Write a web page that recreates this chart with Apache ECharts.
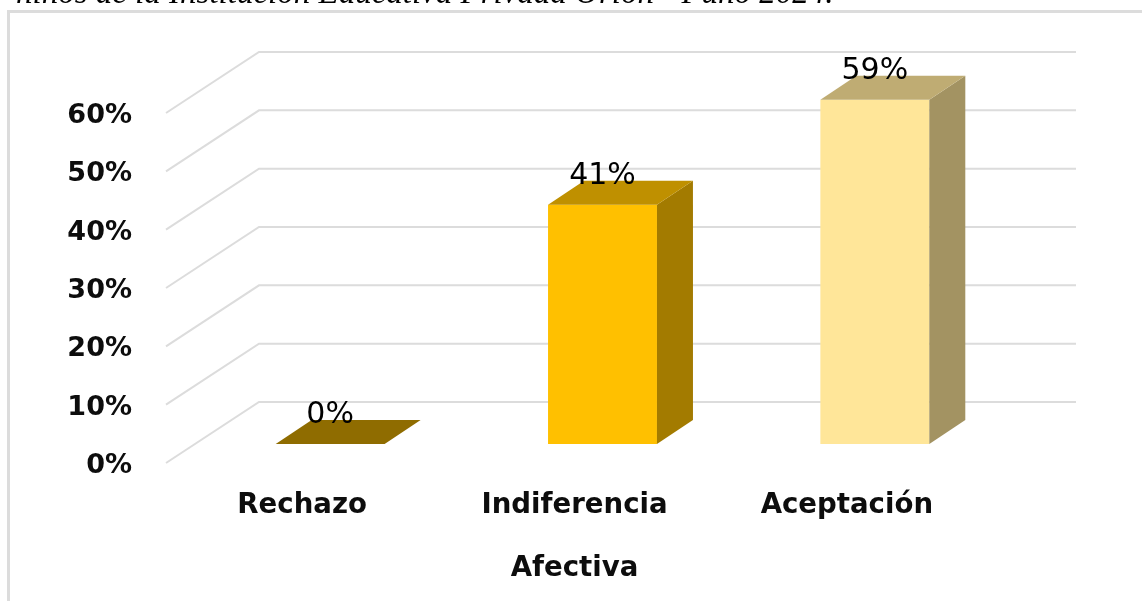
<!DOCTYPE html>
<html>
<head>
<meta charset="utf-8">
<style>
  html, body { margin: 0; padding: 0; background: #fff; }
  #chart { width: 1142px; height: 601px; }
</style>
<script src="https://cdn.jsdelivr.net/npm/echarts@6/dist/echarts.min.js"></script>
</head>
<body>
<div id="chart"></div>
<script>
const categories = ['Rechazo', 'Indiferencia', 'Aceptación']
const values = [0, 41, 59]
const wallTicks = [0, 10, 20, 30, 40, 50, 60]
const frontColors = ['#BF9000', '#FFC000', '#FFE699']
const topColors = ['#8F6C00', '#BF9000', '#BFAC73']
const sideColors = ['#7C5E00', '#A37B00', '#A39362']
const captionText = 'niños de la Institución Educativa Privada Orión - Puno 2024.'
const axisName = 'Afectiva'

const fontName = 'DejaVu Sans'

// depth of the floor and of each bar, in pixels
const wallDx = 93, wallDy = -61
const barInsetDx = 28, barInsetDy = -19
const barDx = 36, barDy = -24

function renderWall(params, api) {
  const p = api.coord([0, api.value(0)])
  const rect = params.coordSys
  const x0 = rect.x
  const y0 = p[1]
  return {
    type: 'polyline',
    silent: true,
    shape: { points: [[x0, y0], [x0 + wallDx, y0 + wallDy], [x0 + wallDx + rect.width, y0 + wallDy]] },
    style: { fill: null, stroke: '#dcdcdc', lineWidth: 2 }
  }
}

function renderBar(params, api) {
  const i = api.value(0)
  const v = api.value(1)
  const base = api.coord([i, 0])
  const top = api.coord([i, v])
  const w = api.size([1, 0])[0] * 0.4
  const x = base[0] - w / 2 + barInsetDx
  const yb = base[1] + barInsetDy
  const yt = top[1] + barInsetDy
  const children = []
  if (v > 0) {
    children.push({
      type: 'rect',
      shape: { x: x, y: yt, width: w, height: yb - yt },
      style: { fill: frontColors[i] }
    })
    children.push({
      type: 'polygon',
      shape: { points: [[x + w, yt], [x + w + barDx, yt + barDy], [x + w + barDx, yb + barDy], [x + w, yb]] },
      style: { fill: sideColors[i] }
    })
  }
  children.push({
    type: 'polygon',
    shape: { points: [[x, yt], [x + barDx, yt + barDy], [x + w + barDx, yt + barDy], [x + w, yt]] },
    style: { fill: topColors[i] }
  })
  children.push({
    type: 'text',
    style: {
      text: v + '%',
      x: x + w / 2,
      y: yt - 29,
      align: 'center',
      verticalAlign: 'middle',
      fontFamily: fontName,
      fontSize: 30,
      fill: '#000'
    }
  })
  return { type: 'group', children: children }
}

const chart = echarts.init(document.getElementById('chart'), null, { renderer: 'canvas' })
chart.setOption({
  animation: false,
  backgroundColor: '#fff',
  graphic: [
    { type: 'rect', shape: { x: 7, y: 10, width: 3, height: 591 }, style: { fill: '#dcdcdc' } },
    { type: 'rect', shape: { x: 7, y: 10, width: 1135, height: 3 }, style: { fill: '#dcdcdc' } },
    {
      type: 'text',
      x: 16,
      y: 11,
      z: 10,
      style: {
        text: captionText,
        verticalAlign: 'bottom',
        fontFamily: 'Liberation Serif',
        fontStyle: 'italic',
        fontSize: 33,
        fill: '#000'
      }
    }
  ],
  grid: { left: 166, top: 113, width: 817, height: 350 },
  xAxis: {
    type: 'category',
    data: categories,
    name: axisName,
    nameLocation: 'center',
    nameGap: 92,
    nameTextStyle: { fontFamily: fontName, fontWeight: 'bold', fontSize: 27.6, color: '#0d0d0d' },
    axisLine: { show: false },
    axisTick: { show: false },
    axisLabel: { margin: 29, fontFamily: fontName, fontWeight: 'bold', fontSize: 27.6, color: '#0d0d0d' }
  },
  yAxis: {
    type: 'value',
    min: 0,
    max: 60,
    interval: 10,
    splitLine: { show: false },
    axisLine: { show: false },
    axisTick: { show: false },
    axisLabel: {
      margin: 34,
      verticalAlign: 'top',
      lineHeight: 6,
      formatter: '{value}%',
      fontFamily: fontName,
      fontWeight: 'bold',
      fontSize: 27,
      color: '#0d0d0d'
    }
  },
  series: [
    { type: 'custom', renderItem: renderWall, data: wallTicks.map(t => [t]), encode: { y: 0 }, clip: false, silent: true, z: 1 },
    { type: 'custom', renderItem: renderBar, data: values.map((v, i) => [i, v]), encode: { x: 0, y: 1 }, clip: false, z: 2 }
  ]
})
</script>
</body>
</html>
